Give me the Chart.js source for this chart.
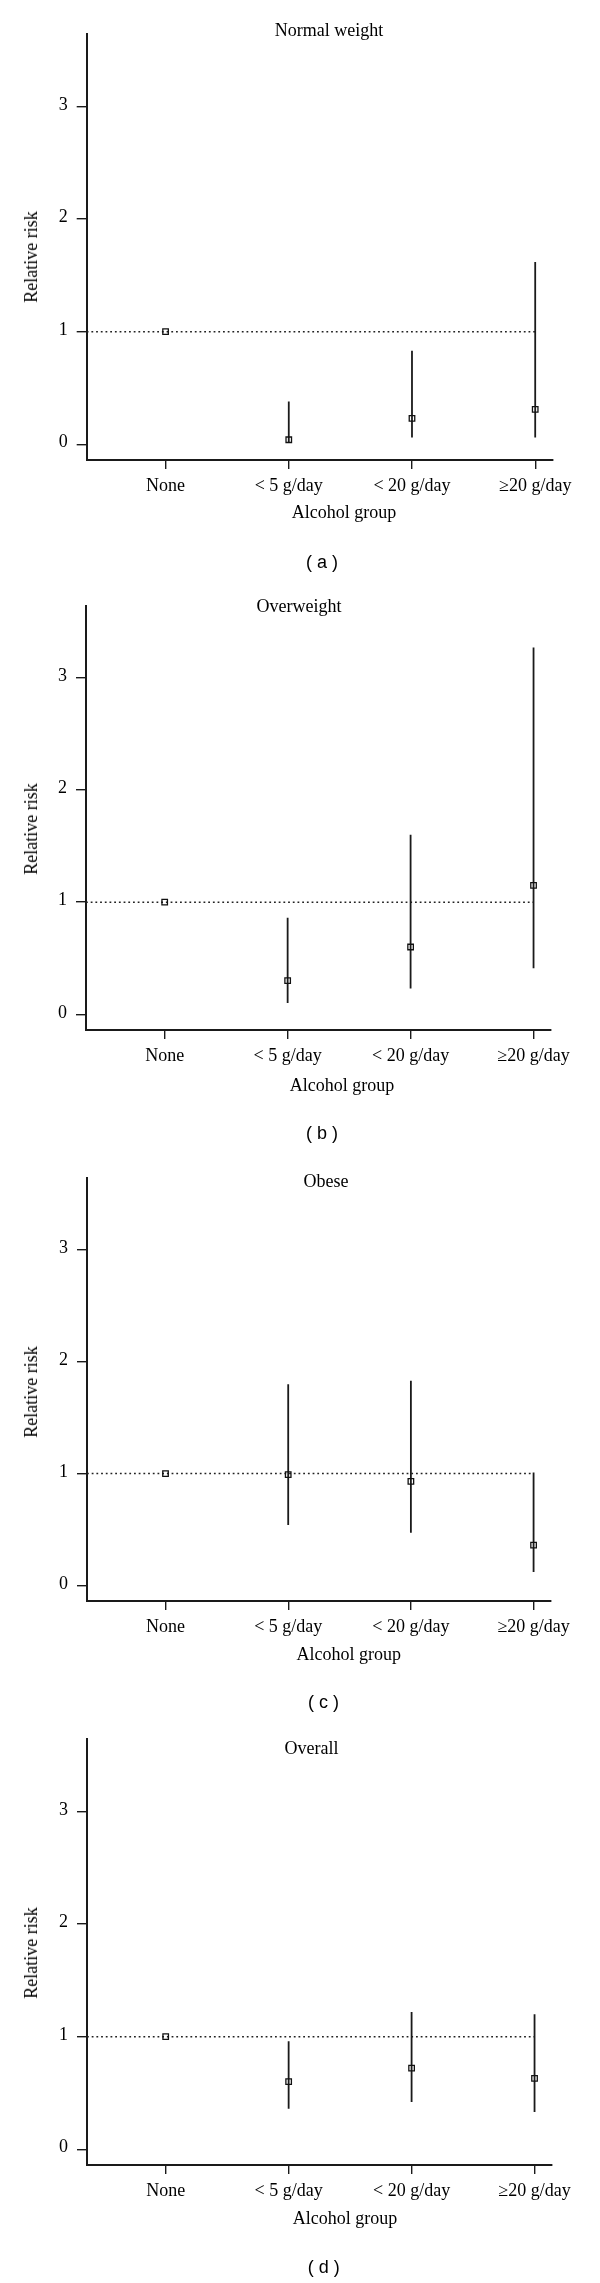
<!DOCTYPE html>
<html><head><meta charset="utf-8">
<script src="https://cdn.jsdelivr.net/npm/chart.js@4.4.1/dist/chart.umd.min.js"></script>
<style>
html,body{margin:0;padding:0;background:#fff;}
body{width:600px;height:2283px;position:relative;overflow:hidden;}
.lbl{position:absolute;font-family:'Liberation Serif','Times New Roman',serif;font-size:18px;line-height:18px;color:#000;white-space:nowrap;transform:translate(-50%,-50%);}
.cap{font-family:'Liberation Sans',Arial,sans-serif;}
.rot{transform:translate(-50%,-50%) rotate(-90deg);}
</style></head><body>
<script>
// ---- data ----
const categories = ['None', '< 5 g/day', '< 20 g/day', '\u226520 g/day'];
const panelTitles = ['Normal weight', 'Overweight', 'Obese', 'Overall'];
const panelCaptions = ['( a )', '( b )', '( c )', '( d )'];
const xAxisTitle = 'Alcohol group';
const yAxisTitle = 'Relative risk';
const yTickValues = [0, 1, 2, 3];
const referenceValue = 1;

const rrNormal   = [1, 0.04, 0.23, 0.31];
const lowNormal  = [1, 0.01, 0.06, 0.06];
const highNormal = [1, 0.38, 0.83, 1.62];

const rrOver   = [1, 0.30, 0.60, 1.15];
const lowOver  = [1, 0.10, 0.23, 0.41];
const highOver = [1, 0.86, 1.60, 3.27];

const rrObese   = [1, 0.99, 0.93, 0.36];
const lowObese  = [1, 0.54, 0.47, 0.12];
const highObese = [1, 1.80, 1.83, 1.01];

const rrAll   = [1, 0.60, 0.72, 0.63];
const lowAll  = [1, 0.36, 0.42, 0.33];
const highAll = [1, 0.96, 1.22, 1.20];

const series = [
  {rr: rrNormal, low: lowNormal, high: highNormal},
  {rr: rrOver,   low: lowOver,   high: highOver},
  {rr: rrObese,  low: lowObese,  high: highObese},
  {rr: rrAll,    low: lowAll,    high: highAll}
];

// ---- scale ranges ----
const xMin = -0.64, xMax = 3.142;
const yMin = -0.14, yMax = 3.645;

// ---- layout (pixels) ----
const panels = [
  {top: 0,    h: 570, area: {l: 86.7, r: 552.7, t: 34,    b: 460},  title: [329, 30],     xt: [344, 511.5],  yt: [30.7, 256.5],  cap: [322, 562]},
  {top: 570,  h: 570, area: {l: 86,   r: 551,   t: 605.5, b: 1030}, title: [299, 606.4],  xt: [342, 1084.5], yt: [30.7, 828.8],  cap: [322, 1133]},
  {top: 1140, h: 570, area: {l: 87,   r: 551,   t: 1178,  b: 1601}, title: [326, 1180.7], xt: [348.7, 1654], yt: [30.7, 1392.3], cap: [323.4, 1702]},
  {top: 1710, h: 573, area: {l: 87,   r: 552,   t: 1739,  b: 2165}, title: [311.5, 1747.6], xt: [345, 2218], yt: [30.7, 1952.5], cap: [323.8, 2267.4]}
];

const serif = "'Liberation Serif', 'Times New Roman', serif";
const ink = '#111';

function addLabel(text, pos, extra) {
  const d = document.createElement('div');
  d.className = 'lbl' + (extra ? ' ' + extra : '');
  d.textContent = text;
  d.style.left = pos[0] + 'px';
  d.style.top = pos[1] + 'px';
  document.body.appendChild(d);
}

function makeChart(p, idx) {
  const canvas = document.createElement('canvas');
  canvas.width = 600; canvas.height = p.h;
  canvas.style.cssText = 'position:absolute;left:0;top:' + p.top + 'px;width:600px;height:' + p.h + 'px;';
  document.body.appendChild(canvas);

  const s = series[idx];
  const markers = categories.map((c, i) => ({x: i, y: s.rr[i]}));
  const bars = [];
  categories.forEach((c, i) => {
    bars.push({x: i, y: s.low[i]}, {x: i, y: s.high[i]}, {x: i, y: null});
  });
  const ref = [{x: xMin, y: referenceValue}, {x: categories.length - 1, y: referenceValue}];

  new Chart(canvas, {
    type: 'scatter',
    data: {datasets: [
      {data: markers, pointStyle: 'rect', pointRadius: 3.9, pointBorderWidth: 1.3,
       borderColor: ink, backgroundColor: 'rgba(0,0,0,0)', showLine: false},
      {type: 'line', data: bars, borderColor: '#1a1a1a', borderWidth: 1.8, pointRadius: 0, spanGaps: false, fill: false},
      {type: 'line', data: ref, borderColor: '#222', borderWidth: 1.5, borderDash: [1.8, 2.9], pointRadius: 0, fill: false}
    ]},
    options: {
      responsive: false, animation: false, events: [],
      layout: {padding: {top: p.area.t - p.top, right: 600 - p.area.r, left: 0, bottom: 0}},
      plugins: {legend: {display: false}, tooltip: {enabled: false}, title: {display: false}},
      scales: {
        x: {
          type: 'linear', min: xMin, max: xMax,
          afterFit: sc => { sc.height = p.top + p.h - p.area.b; },
          afterBuildTicks: sc => { sc.ticks = categories.map((c, i) => ({value: i})); },
          ticks: {callback: v => categories[v], font: {family: serif, size: 18}, color: '#000',
                  padding: 6, maxRotation: 0, autoSkip: false},
          grid: {drawOnChartArea: false, drawTicks: true, tickLength: 9, color: '#1a1a1a', lineWidth: 1.4},
          border: {display: true, color: '#1a1a1a', width: 2}
        },
        y: {
          type: 'linear', min: yMin, max: yMax,
          afterFit: sc => { sc.width = p.area.l; },
          afterBuildTicks: sc => { sc.ticks = yTickValues.map(v => ({value: v})); },
          ticks: {callback: v => String(v), font: {family: serif, size: 18}, color: '#000',
                  padding: 9, labelOffset: -1.5},
          grid: {drawOnChartArea: false, drawTicks: true, tickLength: 10, color: '#1a1a1a', lineWidth: 1.4},
          border: {display: true, color: '#1a1a1a', width: 2}
        }
      }
    }
  });

  addLabel(panelTitles[idx], p.title);
  addLabel(xAxisTitle, p.xt);
  addLabel(yAxisTitle, p.yt, 'rot');
  addLabel(panelCaptions[idx], p.cap, 'cap');
}

panels.forEach((p, i) => makeChart(p, i));
</script>
</body></html>
